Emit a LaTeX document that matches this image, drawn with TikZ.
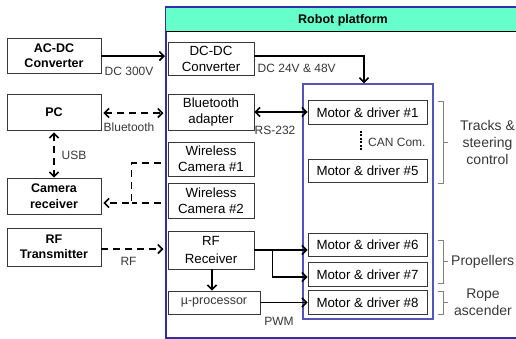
\documentclass[tikz,border=0pt]{standalone}
\usepackage{fontspec}
\setmainfont{Liberation Sans}
\usetikzlibrary{arrows.meta}
\definecolor{platblue}{RGB}{48,48,165}
\definecolor{innerblue}{RGB}{85,85,185}
\definecolor{headteal}{RGB}{102,255,204}
\definecolor{boxline}{RGB}{55,55,55}
\definecolor{lbldark}{RGB}{55,55,55}
\begin{document}
\begin{tikzpicture}[x=1pt,y=-1pt,
  box/.style={draw=boxline, line width=0.8pt, fill=white, align=center, inner sep=0pt,
    font=\fontsize{13.3}{16}\selectfont},
  bbox/.style={box, font=\fontsize{12.5}{15.5}\selectfont\bfseries},
  motor/.style={box, minimum width=119, minimum height=23.5},
  lbl/.style={text=lbldark, font=\fontsize{12}{17}\selectfont, inner sep=0pt},
  blbl/.style={lbl, font=\fontsize{14}{17}\selectfont},
  arr/.style={line width=1.6pt, -{Straight Barb[length=4.5pt,width=9pt]}},
  darr/.style={arr, {Straight Barb[length=4.5pt,width=9pt]}-{Straight Barb[length=4.5pt,width=9pt]}},
  dsh/.style={dash pattern=on 7pt off 5pt},
  brace/.style={draw=gray, line width=0.8pt}
]
\useasboundingbox (0,0) rectangle (516,338);
\clip (0,0) rectangle (516,338);

% robot platform
\node[draw=platblue, line width=2.2pt, minimum width=360, minimum height=331, anchor=north west, inner sep=0pt] (plat) at (165,6) {};
\fill[headteal] (166.2,8) rectangle (525,31);
\draw[black, line width=0.8pt] (166.2,31) -- (525,31);
\node[font=\fontsize{12.5}{15}\selectfont\bfseries] (title) at (343,20) {Robot platform};

% inner motor box
\node[draw=innerblue, line width=1.3pt, minimum width=130, minimum height=235, inner sep=0pt] (mbox) at (368,201.5) {};

% left boxes
\node[bbox, minimum width=94, minimum height=35] (acdc) at (54,55.5) {AC-DC\\Converter};
\node[bbox, minimum width=94, minimum height=36] (pc) at (54,112) {PC};
\node[bbox, minimum width=94, minimum height=36] (camrx) at (54,196) {Camera\\receiver};
\node[bbox, minimum width=94, minimum height=38] (rftx) at (54,247) {RF\\Transmitter};

% platform boxes
\node[box, minimum width=86, minimum height=33] (dcdc) at (211,58.5) {DC-DC\\Converter};
\node[box, minimum width=86, minimum height=36] (bt) at (211,112) {Bluetooth\\adapter};
\node[box, minimum width=86, minimum height=34] (cam1) at (211,159) {Wireless\\Camera \#1};
\node[box, minimum width=86, minimum height=35] (cam2) at (211,200.5) {Wireless\\Camera \#2};
\node[box, minimum width=86, minimum height=38, font=\fontsize{13.3}{17.5}\selectfont] (rfrx) at (211,250) {RF\\Receiver};
\node[box, minimum width=92, minimum height=23, text=lbldark, font=\fontsize{12.5}{14}\selectfont] (mu) at (214,302.5) {µ-processor};

% motors
\node[motor] (m1) at (367.5,112.5) {Motor \& driver \#1};
\node[motor] (m5) at (367.5,171) {Motor \& driver \#5};
\node[motor] (m6) at (367.5,245) {Motor \& driver \#6};
\node[motor] (m7) at (367.5,274.5) {Motor \& driver \#7};
\node[motor] (m8) at (367.5,302.5) {Motor \& driver \#8};

% connectors
\draw[arr] ([shift={(0,0.5)}]acdc.east) -- ([shift={(0,0.5)}]acdc.east -| plat.west);
\draw[arr] ([shift={(0,-2.5)}]dcdc.east) -| ([shift={(-4,0)}]mbox.north);
\draw[darr, dsh, shorten >=1.5pt] ([shift={(2,1)}]pc.east) -- ([shift={(0,1)}]pc.east -| plat.west);
\draw[darr] (bt.east) -- (bt.east -| m1.west);
\draw[darr, dsh, shorten <=2pt] (pc.south) -- (camrx.north);
\draw[arr, dsh] ([shift={(-7,4)}]cam1.west) -- ++(-29,0) |- ([shift={(2,7)}]camrx.east);
\draw[line width=1.6pt, dsh] ([shift={(-7,2.5)}]cam2.west) -- ++(-29,0);
\draw[arr, dsh, shorten >=1.5pt] ([shift={(0,2)}]rftx.east) -- ([shift={(0,2)}]rftx.east -| plat.west);
\draw[arr] (rfrx.east) -- (rfrx.east -| m6.west);
\draw[arr] ([shift={(18,0)}]rfrx.east) |- ([shift={(0,2.5)}]m7.west);
\draw[arr] ([shift={(1,0)}]rfrx.south) -- ([shift={(1,0)}]rfrx.south |- mu.north);
\draw[arr] (mu.east) -- (mu.east -| m8.west);
\draw[line width=1.6pt, dash pattern=on 2.2pt off 1.3pt] ([shift={(-6.5,6)}]m1.south) -- ([shift={(-6.5,-9)}]m5.north);

% labels
\node[lbl, anchor=west] (l300) at (104.5,71) {DC 300V};
\node[lbl, anchor=west] (l2448) at (257.5,68) {DC 24V \& 48V};
\node[lbl, anchor=west] (lbt) at (103.5,127.5) {Bluetooth};
\node[lbl, anchor=west] (lusb) at (61.5,155) {USB};
\node[lbl, anchor=west] (lrs) at (254.5,130.5) {RS-232};
\node[lbl, anchor=west] (lcan) at (368,142) {CAN Com.};
\node[lbl] (lrf) at (128.5,261) {RF};
\node[lbl] (lpwm) at (279,321) {PWM};

% braces
\draw[brace] (438,101) -- (443,101) -- (443,183) -- (438,183) (443,142) -- (448,142);
\draw[brace] (438,240) -- (443,240) -- (443,283) -- (438,283) (443,261.5) -- (448,261.5);
\draw[brace] (438,291) -- (443,291) -- (443,314) -- (438,314) (443,302.5) -- (448,302.5);
\node[blbl, align=center] (ltrack) at (487.5,142) {Tracks \&\\steering\\control};
\node[blbl, anchor=west] (lprop) at (451,261.5) {Propellers};
\node[blbl, align=center] (lrope) at (483,302.5) {Rope\\ascender};
\end{tikzpicture}
\end{document}
